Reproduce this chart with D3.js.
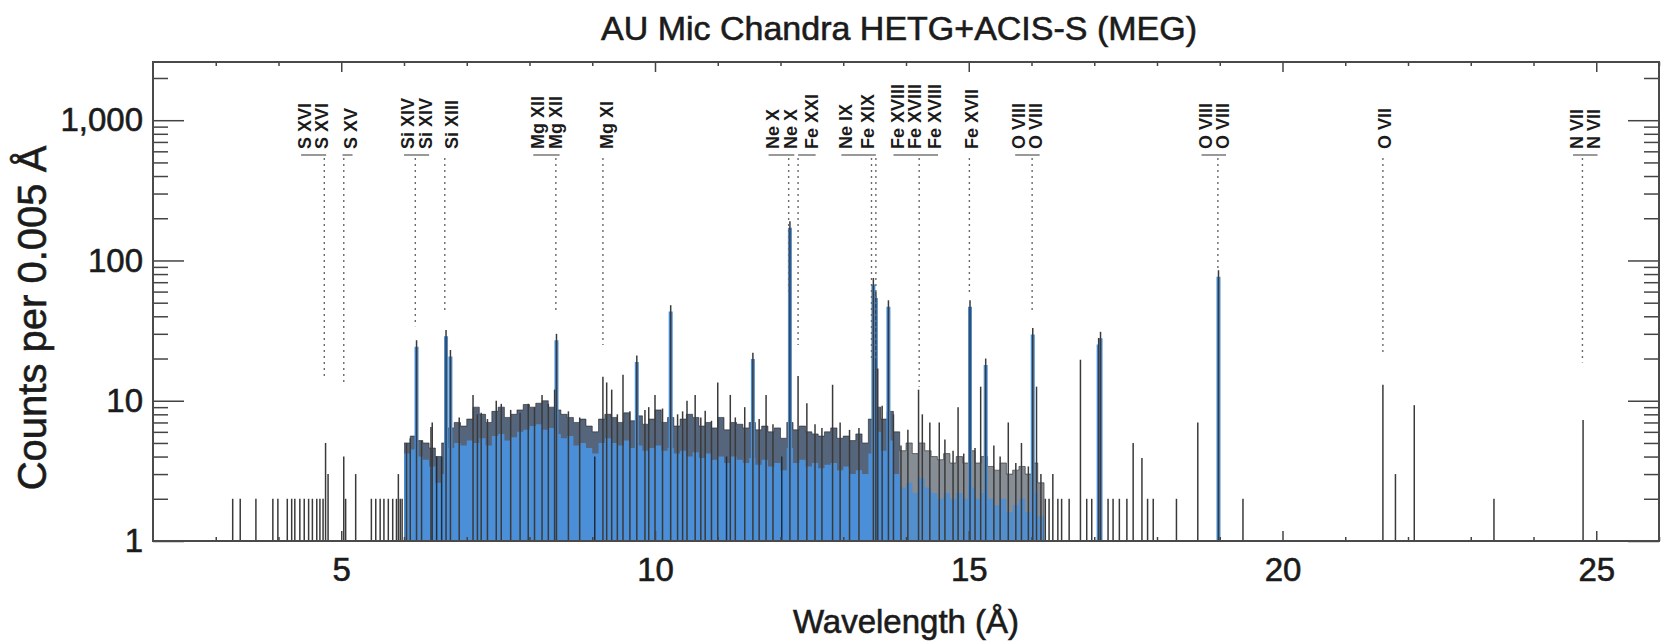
<!DOCTYPE html>
<html>
<head>
<meta charset="utf-8">
<script src="https://cdn.jsdelivr.net/npm/d3@7"></script>
<style>
  body { margin: 0; background: #fff; }
  text { font-family: "Liberation Sans", Arial, Helvetica, sans-serif; fill: #1b1b1b; }
  .heavy { stroke: #1b1b1b; stroke-width: 0.6px; }
</style>
</head>
<body>
<svg id="chart" width="1664" height="641"></svg>
<script>
// --- data ---
const title = "AU Mic Chandra HETG+ACIS-S (MEG)";
const xLabel = "Wavelength (Å)";
const yLabel = "Counts per 0.005 Å";

const xTicks = [5, 10, 15, 20, 25];
const xMinor = [3, 4, 6, 7, 8, 9, 11, 12, 13, 14, 16, 17, 18, 19, 21, 22, 23, 24, 26];
const yTicks = [1, 10, 100, 1000];
const yTickLabels = ["1", "10", "100", "1,000"];
const yMinor = [2, 3, 4, 5, 6, 7, 8, 9, 20, 30, 40, 50, 60, 70, 80, 90, 200, 300, 400, 500, 600, 700, 800, 900, 2000];

// continuum band (0.1 Å bins): blue fill level and dark top of the noisy histogram
const contWave = [6.0, 6.1, 6.2, 6.3, 6.4, 6.5, 6.6, 6.7, 6.8, 6.9,
  7.0, 7.1, 7.2, 7.3, 7.4, 7.5, 7.6, 7.7, 7.8, 7.9,
  8.0, 8.1, 8.2, 8.3, 8.4, 8.5, 8.6, 8.7, 8.8, 8.9,
  9.0, 9.1, 9.2, 9.3, 9.4, 9.5, 9.6, 9.7, 9.8, 9.9,
  10.0, 10.1, 10.2, 10.3, 10.4, 10.5, 10.6, 10.7, 10.8, 10.9,
  11.0, 11.1, 11.2, 11.3, 11.4, 11.5, 11.6, 11.7, 11.8, 11.9,
  12.0, 12.1, 12.2, 12.3, 12.4, 12.5, 12.6, 12.7, 12.8, 12.9,
  13.0, 13.1, 13.2, 13.3, 13.4, 13.5, 13.6, 13.7, 13.8, 13.9,
  14.0, 14.1, 14.2, 14.3, 14.4, 14.5, 14.6, 14.7, 14.8, 14.9,
  15.0, 15.1, 15.2, 15.3, 15.4, 15.5, 15.6, 15.7, 15.8, 15.9,
  16.0, 16.1, 16.2];
const fillTop = [4.2, 4.5, 4.0, 3.8, 3.4, 2.6, 3.0, 4.6, 5.0, 4.8,
  5.2, 5.0, 5.4, 4.8, 5.6, 5.8, 5.2, 5.5, 6.0, 6.2,
  6.6, 6.8, 6.2, 6.4, 5.8, 5.4, 5.6, 4.8, 5.0, 4.6,
  4.2, 5.0, 5.4, 5.0, 4.8, 5.2, 4.6, 4.8, 4.4, 4.6,
  4.8, 4.4, 4.6, 4.2, 4.4, 4.0, 4.3, 3.9, 4.2, 3.8,
  4.0, 3.6, 4.0, 3.8, 3.6, 3.9, 3.5, 3.8, 3.4, 3.6,
  3.2, 4.6, 3.6, 3.8, 3.4, 3.6, 3.3, 3.5, 3.6, 3.2,
  3.4, 3.0, 3.2, 3.0, 4.2, 6.0, 4.4, 5.2, 3.0, 2.4,
  2.6, 2.2, 2.8, 2.4, 2.2, 2.0, 2.2, 2.0, 2.2, 2.0,
  2.4, 2.0, 2.2, 2.0, 1.8, 2.0, 1.6, 1.8, 2.0, 1.6,
  2.2, 1.5, 1.0];
const noiseTop = [5.0, 5.6, 5.2, 5.0, 4.6, 4.0, 5.0, 6.4, 7.0, 6.6,
  7.4, 9.0, 8.0, 7.0, 8.4, 9.0, 7.6, 8.0, 8.6, 9.4,
  9.0, 9.6, 10.0, 9.0, 8.6, 8.0, 7.6, 7.0, 7.4, 6.6,
  6.0, 7.4, 8.0, 7.6, 7.0, 8.2, 7.2, 7.8, 6.8, 7.4,
  8.6, 7.0, 7.6, 6.6, 7.4, 8.0, 7.6, 6.6, 7.0, 6.4,
  7.6, 6.2, 7.0, 6.8, 6.4, 7.0, 6.2, 6.6, 6.0, 6.4,
  5.4, 7.0, 6.2, 6.6, 6.0, 5.8, 5.6, 6.0, 6.4, 5.4,
  5.6, 5.2, 5.8, 5.0, 7.4, 9.0, 7.4, 8.4, 6.0, 4.4,
  5.0, 4.2, 5.0, 4.4, 4.0, 3.8, 4.2, 3.6, 4.0, 3.6,
  4.4, 3.6, 4.0, 3.4, 3.2, 3.6, 3.0, 3.2, 3.4, 3.0,
  3.6, 2.6, 1.0];
const denseEnd = 13.9; // beyond this the band thins out to scattered bins

// empty bins inside the band (histogram drops to the floor)
const gapWave = [6.52, 6.60, 9.04, 11.14, 12.02];

// individual histogram spikes (wavelength Å, counts)
const spikeWave = [3.27, 3.39, 3.64, 3.91, 3.99, 4.14, 4.21, 4.26, 4.34, 4.41, 4.48, 4.54, 4.61, 4.66, 4.71,
  4.75, 4.79, 5.04, 5.07, 5.23, 5.48, 5.55, 5.62, 5.68, 5.75, 5.82, 5.88, 5.91, 5.94, 5.97,
  6.04, 6.10, 6.20, 6.28, 6.43, 6.45, 6.67, 6.74, 6.88, 7.10, 7.17, 7.23, 7.33, 7.47, 7.55,
  7.70, 7.85, 7.98, 8.08, 8.20, 8.30, 8.40, 8.43, 8.62, 8.80, 9.17, 9.23, 9.31, 9.40, 9.49,
  9.60, 9.71, 9.84, 9.90, 10.00, 10.12, 10.25, 10.36, 10.44, 10.51, 10.64, 10.73, 10.80, 10.90, 11.00,
  11.20, 11.28, 11.43, 11.56, 11.66, 11.77, 11.88, 12.15, 12.28, 12.42, 12.55, 12.66, 12.83, 12.95, 13.10,
  13.25, 13.48, 13.52, 13.55, 13.62, 13.72, 13.80, 13.92, 14.03, 14.20, 14.26, 14.38, 14.53, 14.62, 14.75,
  14.83, 14.92, 15.02, 15.10, 15.19, 15.27, 15.40, 15.50, 15.63, 15.75, 15.84, 15.95, 16.02, 16.08, 16.15,
  16.22, 16.28, 16.34, 16.42, 16.48, 16.60, 16.78, 16.88, 16.96, 17.07, 17.10, 17.22, 17.30, 17.40, 17.52,
  17.62, 17.76, 17.85, 17.94, 18.31, 18.65, 18.98, 19.37, 21.60, 21.80, 22.10, 23.37, 24.79];
const spikeCount = [2, 2, 2, 2, 2, 2, 2, 2, 2, 2, 2, 2, 2, 2, 2,
  5, 3, 4, 2, 3, 2, 2, 2, 2, 2, 2, 2, 3, 2, 2,
  5, 5.4, 27, 5.2, 6.5, 7, 32, 23, 7.6, 11, 8, 8.2, 7.4, 10, 9.5,
  8.6, 8.2, 9.5, 9, 11, 9.5, 12, 30, 8.4, 7.6, 14.8, 13.5, 12, 8, 15.3,
  8.4, 21, 8.6, 9, 11, 8.8, 48, 8, 8.4, 10, 11, 7.6, 8.5, 7.2, 13.5,
  11, 7.6, 9, 22, 7.4, 11, 6.8, 190, 15, 9.6, 6.8, 6.4, 13, 7, 6.2,
  6.4, 75, 60, 17, 9.2, 52, 8, 4.8, 6.2, 12, 8, 7, 7, 5.3, 4.4,
  9, 4.2, 52, 4.6, 12.6, 20, 4.8, 4, 7, 3.6, 5, 3.4, 33, 12.6, 3,
  2, 2, 3, 2, 2, 2, 19.6, 2, 2, 28, 31, 2, 2, 2, 2,
  5, 3.9, 2, 2, 2, 7, 85, 2, 13, 3, 9.3, 2, 7.3];

// line identifications
const idWave = [4.73, 5.04, 6.18, 6.65, 8.42, 9.17, 12.13, 12.28, 13.45, 13.52, 14.21, 15.01, 16.01, 18.97, 21.60, 24.78];
const idReach = [15, 13.5, 34, 42, 42, 25, 60, 25, 19.6, 19.6, 12.6, 59, 43, 85, 22, 18.7];
const idLabels = ["S XVI", "S XVI", "S XV", "Si XIV", "Si XIV", "Si XIII", "Mg XII", "Mg XII", "Mg XI",
  "Ne X", "Ne X", "Fe XXI", "Ne IX", "Fe XIX", "Fe XVIII", "Fe XVIII", "Fe XVIII", "Fe XVII",
  "O VIII", "O VIII", "O VIII", "O VIII", "O VII", "N VII", "N VII"];
const idLabelWave = [4.42, 4.69, 5.14, 6.06, 6.34, 6.75, 8.12, 8.42, 9.22,
  11.87, 12.16, 12.50, 13.03, 13.39, 13.86, 14.14, 14.45, 15.04,
  15.80, 16.07, 18.77, 19.04, 21.63, 24.69, 24.96];
const bracketFrom = [4.36, 5.02, 6.00, 8.06, 11.81, 12.28, 12.97, 13.80, 15.74, 18.71, 24.63];
const bracketTo = [4.76, 5.18, 6.40, 8.48, 12.22, 12.56, 13.52, 14.51, 16.13, 19.10, 25.02];

// --- chart ---
const margin = {top: 62, right: 5, bottom: 100, left: 153};
const width = 1506, height = 479;

const svg = d3.select("#chart");
const g = svg.append("g").attr("transform", "translate(" + margin.left + "," + margin.top + ")");

const x = d3.scaleLinear().domain([2, 26]).range([0, width]);
const y = d3.scaleLog().domain([1, 2600]).range([height, 0]);

g.append("clipPath").attr("id", "plot-clip")
  .append("rect").attr("width", width).attr("height", height);
const plot = g.append("g").attr("clip-path", "url(#plot-clip)");

const band = contWave.map((w, i) => ({w: w, lo: fillTop[i], hi: noiseTop[i]}));
const dense = band.filter(d => d.w <= denseEnd);
const sparse = band.filter(d => d.w >= denseEnd);

const noiseArea = d3.area().curve(d3.curveStepAfter)
  .x(d => x(d.w)).y0(y(1)).y1(d => y(d.hi));
const fillArea = d3.area().curve(d3.curveStepAfter)
  .x(d => x(d.w)).y0(y(1)).y1(d => y(d.lo));
const noiseLine = d3.line().curve(d3.curveStepAfter).x(d => x(d.w)).y(d => y(d.hi));

// dark noisy part of the histogram
plot.append("path").datum(dense)
  .attr("fill", "#2a3f5a").attr("fill-opacity", 0.8)
  .attr("d", noiseArea);
plot.append("path").datum(sparse)
  .attr("fill", "#3c4754").attr("fill-opacity", 0.62)
  .attr("d", noiseArea);

// blue filled histogram
plot.append("path").datum(dense)
  .attr("fill", "#4a8fd7")
  .attr("d", fillArea);
plot.append("path").datum(sparse)
  .attr("fill", "#4a8fd7").attr("fill-opacity", 0.85)
  .attr("d", fillArea);

plot.append("path").datum(band)
  .attr("fill", "none")
  .attr("stroke", "#1c1c1c")
  .attr("stroke-width", 1)
  .attr("stroke-opacity", 0.55)
  .attr("d", noiseLine);

// empty bins
plot.selectAll(".gap")
  .data(gapWave)
  .enter().append("line")
    .attr("class", "gap")
    .attr("x1", d => x(d)).attr("x2", d => x(d))
    .attr("y1", y(1)).attr("y2", y(4))
    .attr("stroke", "#1f2d3c")
    .attr("stroke-width", 1.5);

const spikes = spikeWave.map((w, i) => ({w: w, c: spikeCount[i]}));

// strong lines get a blue core
plot.selectAll(".core")
  .data(spikes.filter(d => d.c >= 20))
  .enter().append("line")
    .attr("class", "core")
    .attr("x1", d => x(d.w)).attr("x2", d => x(d.w))
    .attr("y1", y(1)).attr("y2", d => y(d.c * 0.9))
    .attr("stroke", "#4a8fd7")
    .attr("stroke-width", 4);

plot.selectAll(".spike")
  .data(spikes)
  .enter().append("line")
    .attr("class", "spike")
    .attr("x1", d => x(d.w)).attr("x2", d => x(d.w))
    .attr("y1", y(1)).attr("y2", d => y(d.c))
    .attr("stroke", "#3a3a3a")
    .attr("stroke-width", 1.5);

// identification markers
const labelBottom = 87, bracketY = 93, dotStart = 96;

g.selectAll(".id-line")
  .data(idWave.map((w, i) => ({w: w, r: idReach[i]})))
  .enter().append("line")
    .attr("class", "id-line")
    .attr("x1", d => x(d.w)).attr("x2", d => x(d.w))
    .attr("y1", dotStart).attr("y2", d => y(d.r))
    .attr("stroke", "#6a6a6a")
    .attr("stroke-width", 1.4)
    .attr("stroke-dasharray", "2,4");

g.selectAll(".bracket")
  .data(bracketFrom.map((b, i) => [b, bracketTo[i]]))
  .enter().append("line")
    .attr("class", "bracket")
    .attr("x1", d => x(d[0])).attr("x2", d => x(d[1]))
    .attr("y1", bracketY).attr("y2", bracketY)
    .attr("stroke", "#777")
    .attr("stroke-width", 1.5);

g.selectAll(".id-label")
  .data(idLabels.map((t, i) => ({t: t, w: idLabelWave[i]})))
  .enter().append("text")
    .attr("class", "id-label")
    .attr("transform", d => "translate(" + (x(d.w) + 6.5) + "," + labelBottom + ") rotate(-90)")
    .style("font-size", "18px")
    .style("font-weight", "bold")
    .text(d => d.t);

// axes
function clean(sel) { sel.select(".domain").remove(); sel.selectAll("line").attr("stroke", "#444").attr("stroke-width", 1.5); }

g.append("g").attr("transform", "translate(0," + height + ")")
  .call(d3.axisBottom(x).tickValues(xMinor).tickSize(-4).tickFormat(""))
  .call(clean);
g.append("g").attr("transform", "translate(0," + height + ")")
  .call(d3.axisBottom(x).tickValues(xTicks).tickSize(-10).tickPadding(17).tickFormat(d3.format("d")))
  .call(clean)
  .call(a => a.selectAll("text").attr("class", "heavy").style("font-size", "33px").attr("fill", "#1b1b1b"));
g.append("g")
  .call(d3.axisTop(x).tickValues(xMinor).tickSize(-4).tickFormat(""))
  .call(clean);
g.append("g")
  .call(d3.axisTop(x).tickValues(xTicks).tickSize(-10).tickFormat(""))
  .call(clean);

g.append("g")
  .call(d3.axisLeft(y).tickValues(yMinor).tickSize(-15).tickFormat(""))
  .call(clean);
g.append("g")
  .call(d3.axisLeft(y).tickValues(yTicks).tickSize(-31).tickPadding(10)
    .tickFormat((d, i) => yTickLabels[i]))
  .call(clean)
  .call(a => a.selectAll("text").attr("class", "heavy").style("font-size", "33px").attr("fill", "#1b1b1b"));
g.append("g").attr("transform", "translate(" + width + ",0)")
  .call(d3.axisRight(y).tickValues(yMinor).tickSize(-15).tickFormat(""))
  .call(clean);
g.append("g").attr("transform", "translate(" + width + ",0)")
  .call(d3.axisRight(y).tickValues(yTicks).tickSize(-31).tickFormat(""))
  .call(clean);

// frame
g.append("rect")
  .attr("width", width).attr("height", height)
  .attr("fill", "none")
  .attr("stroke", "#4a4a4a")
  .attr("stroke-width", 2);

// titles
svg.append("text")
  .attr("class", "heavy")
  .attr("x", 899).attr("y", 40)
  .attr("text-anchor", "middle")
  .style("font-size", "34px")
  .text(title);

svg.append("text")
  .attr("class", "heavy")
  .attr("x", margin.left + width / 2).attr("y", 633)
  .attr("text-anchor", "middle")
  .style("font-size", "33px")
  .text(xLabel);

svg.append("text")
  .attr("class", "heavy")
  .attr("transform", "translate(46,318) rotate(-90)")
  .attr("text-anchor", "middle")
  .style("font-size", "40px")
  .text(yLabel);
</script>
</body>
</html>
